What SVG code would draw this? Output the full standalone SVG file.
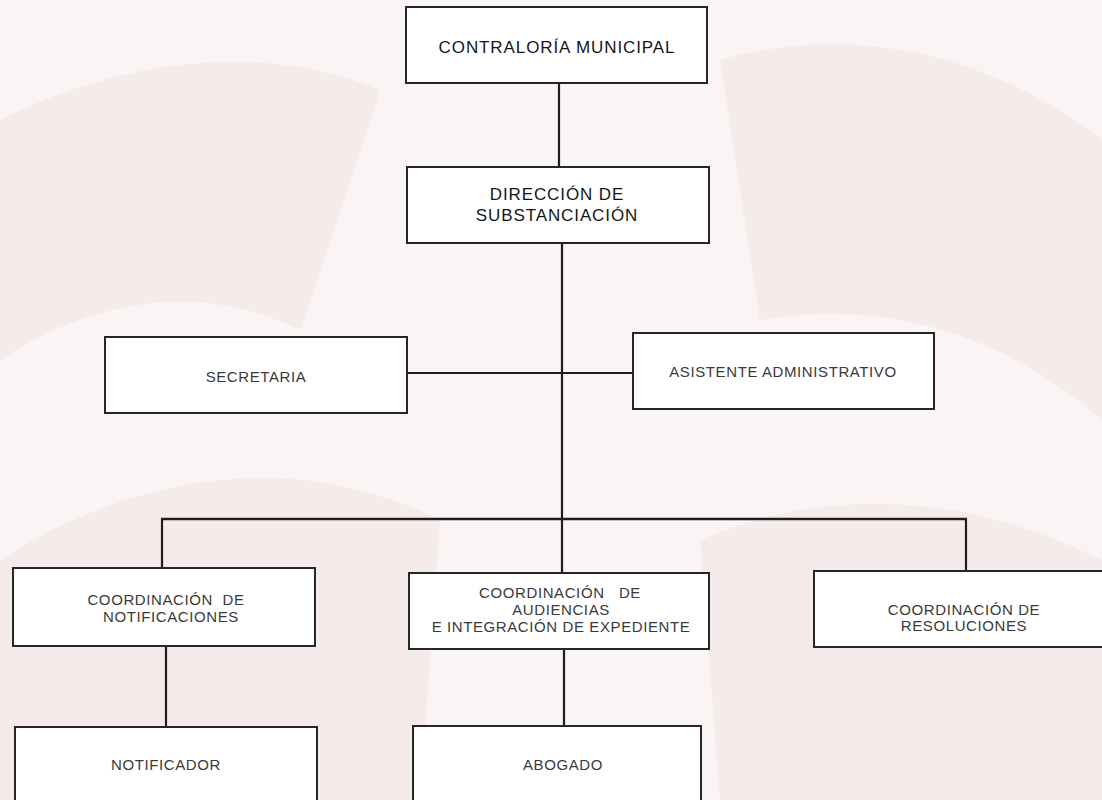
<svg xmlns="http://www.w3.org/2000/svg" width="1102" height="800" viewBox="0 0 1102 800">
<defs>
<style>
.box{fill:#ffffff;stroke:#262626;stroke-width:2}
.conn{stroke:#1e1e1e;stroke-width:2.2;fill:none}
.t1{font-family:"Liberation Sans",Arial,sans-serif;font-size:17px;letter-spacing:0.9px;fill:#161616;text-anchor:middle}
.t2{font-family:"Liberation Sans",Arial,sans-serif;font-size:15px;letter-spacing:0.6px;fill:#3a3a3a;text-anchor:middle}
.wm{fill:#f3e3e3;opacity:0.55}
</style>
</defs>
<rect x="0" y="0" width="1102" height="800" fill="#faf4f4"/>
<g id="watermark">
<path class="wm" d="M0 120 C120 60 260 40 380 90 L300 330 C200 280 90 300 0 360 Z"/>
<path class="wm" d="M720 60 C860 20 1000 60 1102 140 L1102 420 C1000 330 880 300 760 320 Z"/>
<path class="wm" d="M0 560 C140 470 300 450 440 520 L420 800 L0 800 Z"/>
<path class="wm" d="M700 540 C840 480 980 500 1102 560 L1102 800 L720 800 Z"/>
</g>
<g id="connectors">
<line class="conn" x1="559" y1="83" x2="559" y2="167"/>
<line class="conn" x1="562" y1="243" x2="562" y2="573"/>
<line class="conn" x1="407" y1="373" x2="633" y2="373"/>
<line class="conn" x1="161" y1="519" x2="967" y2="519" style="stroke-width:2.6"/>
<line class="conn" x1="162" y1="519" x2="162" y2="568"/>
<line class="conn" x1="966" y1="519" x2="966" y2="571"/>
<line class="conn" x1="166" y1="646" x2="166" y2="727"/>
<line class="conn" x1="564" y1="649" x2="564" y2="726"/>
</g>
<g id="contraloria">
<rect class="box" x="406" y="7" width="301" height="76"/>
<text class="t1" x="557" y="53">CONTRALORÍA MUNICIPAL</text>
</g>
<g id="direccion">
<rect class="box" x="407" y="167" width="302" height="76"/>
<text class="t1" x="557" y="200">DIRECCIÓN DE</text>
<text class="t1" x="557" y="221">SUBSTANCIACIÓN</text>
</g>
<g id="secretaria">
<rect class="box" x="105" y="337" width="302" height="76"/>
<text class="t2" x="256" y="382">SECRETARIA</text>
</g>
<g id="asistente">
<rect class="box" x="633" y="333" width="301" height="76"/>
<text class="t2" x="783" y="377">ASISTENTE ADMINISTRATIVO</text>
</g>
<g id="coord-notificaciones">
<rect class="box" x="13" y="568" width="302" height="78"/>
<text class="t2" x="166" y="605" xml:space="preserve">COORDINACIÓN  DE</text>
<text class="t2" x="171" y="622">NOTIFICACIONES</text>
</g>
<g id="coord-audiencias">
<rect class="box" x="409" y="573" width="300" height="76"/>
<text class="t2" x="560" y="598" xml:space="preserve">COORDINACIÓN   DE</text>
<text class="t2" x="561" y="615">AUDIENCIAS</text>
<text class="t2" x="561" y="632">E INTEGRACIÓN DE EXPEDIENTE</text>
</g>
<g id="coord-resoluciones">
<rect class="box" x="814" y="571" width="292" height="76"/>
<text class="t2" x="964" y="615">COORDINACIÓN DE</text>
<text class="t2" x="964" y="631">RESOLUCIONES</text>
</g>
<g id="notificador">
<rect class="box" x="15" y="727" width="302" height="80"/>
<text class="t2" x="166" y="770">NOTIFICADOR</text>
</g>
<g id="abogado">
<rect class="box" x="413" y="726" width="288" height="80"/>
<text class="t2" x="563" y="770">ABOGADO</text>
</g>
</svg>
